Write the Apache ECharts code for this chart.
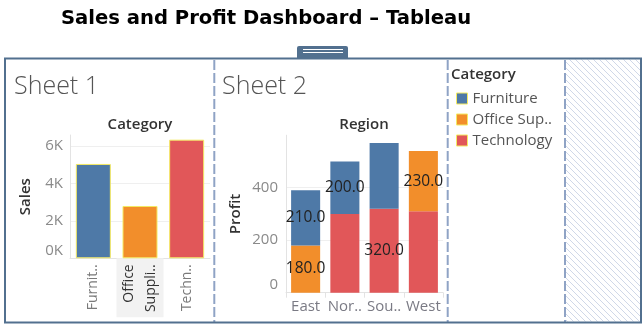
<!DOCTYPE html>
<html>
<head>
<meta charset="utf-8">
<script src="https://cdn.jsdelivr.net/npm/echarts@6/dist/echarts.min.js"></script>
<style>
  html, body { margin: 0; padding: 0; background: #ffffff; }
  #chart { width: 643px; height: 326px; }
</style>
</head>
<body>
<div id="chart"></div>
<script>
// Sheet 1: sales by category
const categories = ['Furniture', 'Office Supplies', 'Technology'];
const categoryTickLabels = ['Furnit..', 'Office\nSuppli..', 'Techn..'];
const highlightedCategory = 'Office Supplies';
const sales = [5050, 2800, 6350];
const salesMax = 6600;
const salesTickStep = 2000;

// Sheet 2: profit by region, stacked by category
const regions = ['East', 'North', 'South', 'West'];
const regionTickLabels = ['East', 'Nor..', 'Sou..', 'West'];
const profitFurniture = [210, 200, 250, null];
const profitOffice = [180, null, null, 230];
const profitTechnology = [null, 300, 320, 310];
const furnitureLabelShown = [true, true, false, false];
const officeLabelShown = [true, false, false, true];
const technologyLabelShown = [false, false, true, false];
const profitMax = 600;
const profitTickStep = 200;

// Legend
const legendOrder = ['Furniture', 'Office Supplies', 'Technology'];
const legendLabels = ['Furniture', 'Office Sup..', 'Technology'];

const colors = {
  'Furniture': '#4e79a7',
  'Office Supplies': '#f28e2b',
  'Technology': '#e15759'
};
const FRAME = '#52708f';
const DIVIDER = '#8fa3c5';
const BASE_FONT = 'Open Sans';

const chart = echarts.init(document.getElementById('chart'));

// diagonal hatch for the empty dashboard slot
const hatch = document.createElement('canvas');
hatch.width = 6; hatch.height = 6;
(function () {
  const c = hatch.getContext('2d');
  c.strokeStyle = '#d0d8e8';
  c.lineWidth = 1;
  c.beginPath();
  c.moveTo(-1, -1); c.lineTo(7, 7);
  c.moveTo(-7, -1); c.lineTo(1, 7);
  c.moveTo(5, -1); c.lineTo(13, 7);
  c.stroke();
})();

function stackData(values, shown) {
  return values.map((v, i) => v == null ? '-' : { value: v, label: { show: shown[i] } });
}

function stackSeries(name, values, shown) {
  return {
    name: name,
    type: 'bar',
    stack: 'profit',
    xAxisIndex: 1,
    yAxisIndex: 1,
    barCategoryGap: '26%',
    itemStyle: { color: colors[name] },
    label: {
      show: true,
      position: 'inside',
      fontSize: 15.5,
      color: '#222',
      textBorderWidth: 0,
      formatter: p => Number(p.value).toFixed(1)
    },
    data: stackData(values, shown)
  };
}

const gridLine = '#efefef';
const axisGray = '#e3e3e3';

const option = {
  animation: false,
  textStyle: { fontFamily: BASE_FONT },
  title: [
    { text: 'Sales and Profit Dashboard \u2013 Tableau', left: 61, top: 9, padding: 0,
      textStyle: { fontFamily: 'DejaVu Sans', fontSize: 19.6, fontWeight: 'bold', color: '#000' } },
    { text: 'Sheet 1', left: 14, top: 74, padding: 0,
      textStyle: { fontFamily: BASE_FONT, fontSize: 25, fontWeight: 300, color: '#555' } },
    { text: 'Sheet 2', left: 222, top: 74, padding: 0,
      textStyle: { fontFamily: BASE_FONT, fontSize: 25, fontWeight: 300, color: '#555' } },
    { text: 'Category', left: 140, top: 117, padding: 0, textAlign: 'center',
      textStyle: { fontSize: 15, fontWeight: 600, color: '#333' } },
    { text: 'Region', left: 364, top: 117, padding: 0, textAlign: 'center',
      textStyle: { fontSize: 15, fontWeight: 600, color: '#333' } },
    { text: 'Category', left: 451, top: 67, padding: 0,
      textStyle: { fontSize: 15, fontWeight: 600, color: '#333' } }
  ],
  legend: {
    data: legendOrder,
    orient: 'vertical',
    left: 456,
    top: 91,
    padding: 0,
    itemWidth: 11,
    itemHeight: 11,
    itemGap: 6,
    selectedMode: false,
    icon: 'rect',
    itemStyle: { borderColor: '#f4ea63', borderWidth: 1 },
    formatter: name => legendLabels[legendOrder.indexOf(name)],
    textStyle: { fontSize: 15, color: '#555', lineHeight: 15 }
  },
  grid: [
    { left: 70, right: 433, top: 135, bottom: 67.7 },
    { left: 286, right: 200, top: 135.2, bottom: 33.3 }
  ],
  xAxis: [
    {
      type: 'category',
      gridIndex: 0,
      data: categories.map(c => c === highlightedCategory
        ? { value: c, textStyle: { backgroundColor: '#f2f2f2', color: '#333',
              padding: [1.5, 6, 1.5, 4], width: 49, lineHeight: 22 } }
        : c),
      axisLine: { show: true, lineStyle: { color: axisGray } },
      axisTick: { show: false },
      axisLabel: {
        interval: 0, rotate: 90, margin: 0, padding: [0, 6, 0, 0],
        fontSize: 14, color: '#7a7a7a',
        formatter: (v, i) => categoryTickLabels[i]
      }
    },
    {
      type: 'category',
      gridIndex: 1,
      data: regions,
      axisLine: { show: true, lineStyle: { color: axisGray } },
      axisTick: { show: true, interval: 0, length: 5, lineStyle: { color: axisGray } },
      axisLabel: {
        interval: 0, margin: 7, fontSize: 15, color: '#7a7a84',
        formatter: (v, i) => regionTickLabels[i]
      }
    }
  ],
  yAxis: [
    {
      type: 'value',
      gridIndex: 0,
      min: 0,
      max: salesMax,
      interval: salesTickStep,
      name: 'Sales',
      nameLocation: 'middle',
      nameGap: 37,
      nameTextStyle: { fontSize: 15, fontWeight: 600, color: '#333' },
      axisLine: { show: true, lineStyle: { color: axisGray } },
      axisTick: { show: false },
      splitLine: { lineStyle: { color: [gridLine, gridLine, gridLine, gridLine, 'rgba(0,0,0,0)'] } },
      axisLabel: {
        margin: 7, fontSize: 15, color: '#8a8a8a',
        showMaxLabel: false,
        verticalAlignMinLabel: 'bottom',
        formatter: v => (v % salesTickStep === 0 ? (v / 1000) + 'K' : '')
      }
    },
    {
      type: 'value',
      gridIndex: 1,
      min: 0,
      max: profitMax,
      interval: profitTickStep,
      name: 'Profit',
      nameLocation: 'middle',
      nameGap: 43,
      nameTextStyle: { fontSize: 15, fontWeight: 600, color: '#333' },
      axisLine: { show: true, lineStyle: { color: axisGray } },
      axisTick: { show: false },
      splitLine: { lineStyle: { color: [gridLine, gridLine, gridLine, 'rgba(0,0,0,0)'] } },
      axisLabel: {
        margin: 8, fontSize: 15, color: '#8a8a8a',
        showMaxLabel: false,
        verticalAlignMinLabel: 'bottom'
      }
    }
  ],
  series: [
    {
      name: 'Sales',
      type: 'bar',
      xAxisIndex: 0,
      yAxisIndex: 0,
      barCategoryGap: '25%',
      data: sales.map((v, i) => ({
        value: v,
        itemStyle: { color: colors[categories[i]], borderColor: '#f4ea63', borderWidth: 1 }
      }))
    },
    stackSeries('Technology', profitTechnology, technologyLabelShown),
    stackSeries('Office Supplies', profitOffice, officeLabelShown),
    stackSeries('Furniture', profitFurniture, furnitureLabelShown)
  ],
  graphic: [
    // empty layout slot
    { type: 'rect', silent: true, z: -20,
      shape: { x: 566, y: 59.5, width: 74, height: 262 },
      style: { fill: { image: hatch, repeat: 'repeat' } } },
    // dividers between dashboard panes
    { type: 'line', silent: true, shape: { x1: 214.3, y1: 60, x2: 214.3, y2: 322 },
      style: { stroke: DIVIDER, lineWidth: 2, lineDash: [10, 3] } },
    { type: 'line', silent: true, shape: { x1: 447.7, y1: 60, x2: 447.7, y2: 322 },
      style: { stroke: DIVIDER, lineWidth: 2, lineDash: [10, 3] } },
    { type: 'line', silent: true, shape: { x1: 565, y1: 60, x2: 565, y2: 322 },
      style: { stroke: DIVIDER, lineWidth: 2, lineDash: [10, 3] } },
    // outer container frame
    { type: 'rect', silent: true,
      shape: { x: 5, y: 58.5, width: 636, height: 264 },
      style: { fill: 'none', stroke: FRAME, lineWidth: 2 } },
    // drag handle on the container
    { type: 'rect', silent: true,
      shape: { x: 297, y: 46, width: 51, height: 12, r: [2, 2, 0, 0] },
      style: { fill: FRAME } },
    { type: 'line', silent: true, shape: { x1: 303, y1: 49.5, x2: 343, y2: 49.5 },
      style: { stroke: '#ffffff', lineWidth: 1 } },
    { type: 'line', silent: true, shape: { x1: 303, y1: 52.5, x2: 343, y2: 52.5 },
      style: { stroke: '#ffffff', lineWidth: 1 } }
  ]
};

chart.setOption(option);
</script>
</body>
</html>
